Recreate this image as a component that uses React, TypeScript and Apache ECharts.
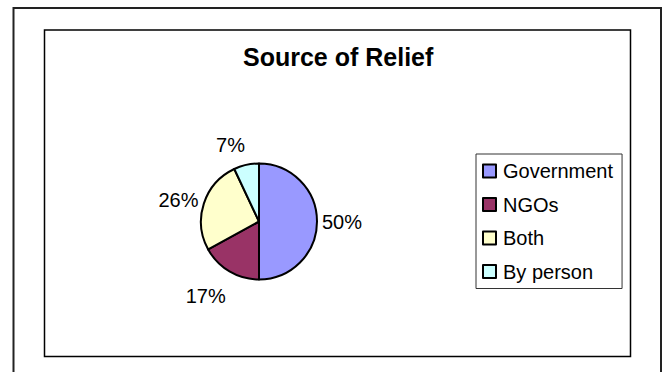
import React, { useEffect, useRef } from "react";
import * as echarts from "echarts";

const categories = ["Government", "NGOs", "Both", "By person"];
const values = [50, 17, 26, 7];
const colors = ["#9999FF", "#993366", "#FFFFCC", "#CCFFFF"];
const titleText = "Source of Relief";

// label placement tuning (layout only)
const labelLengths = [0, 29, 13, 20];
const labelDistances = [5, -11, -7, -3];
const labelPaddings = [[0, 0, 7, 0], [0, 0, 0, 0], [0, 0, 0, 0], [0, 0, 0, 0]];

const FONT = "'Liberation Sans', Arial, sans-serif";

export default function App() {
  const ref = useRef<HTMLDivElement>(null);
  useEffect(() => {
    if (!ref.current) return;
    const chart = echarts.init(ref.current, undefined, { renderer: "svg" });
    chart.setOption({
      animation: false,
      backgroundColor: "#ffffff",
      title: {
        text: titleText,
        left: 238,
        top: 39,
        textStyle: { fontSize: 25, fontWeight: "bold", fontFamily: FONT, color: "#000", lineHeight: 25 },
      },
      legend: {
        orient: "vertical",
        left: 476,
        top: 154,
        padding: [7, 9, 7, 6],
        itemWidth: 13,
        itemHeight: 13,
        itemGap: 13.5,
        icon: "rect",
        borderColor: "#333",
        borderWidth: 1,
        selectedMode: false,
        itemStyle: { borderColor: "#000", borderWidth: 2 },
        textStyle: { fontSize: 20, lineHeight: 20, fontFamily: FONT, color: "#000", padding: [0, 0, 0, 2] },
        data: categories,
      },
      graphic: [
        {
          type: "rect",
          shape: { x: 13.5, y: 8, width: 647.5, height: 400 },
          style: { fill: "none", stroke: "#222", lineWidth: 2 },
          z: -1,
        },
        {
          type: "rect",
          shape: { x: 44.5, y: 30, width: 586, height: 326.5 },
          style: { fill: "none", stroke: "#000", lineWidth: 1.5 },
          z: -1,
        },
      ],
      series: [
        {
          type: "pie",
          center: [259, 221.5],
          radius: 58,
          startAngle: 90,
          clockwise: true,
          avoidLabelOverlap: false,
          itemStyle: { borderColor: "#000", borderWidth: 2 },
          emphasis: { disabled: true },
          label: {
            show: true,
            position: "outside",
            fontSize: 20,
            fontFamily: FONT,
            color: "#000",
            formatter: (p: any) => Math.round(p.percent) + "%",
          },
          labelLine: { show: false, length2: 0 },
          data: categories.map((name, i) => ({
            name,
            value: values[i],
            itemStyle: { color: colors[i] },
            labelLine: { show: false, length: labelLengths[i], length2: 0 },
            label: { distanceToLabelLine: labelDistances[i], padding: labelPaddings[i] },
          })),
        },
      ],
    });
    return () => chart.dispose();
  }, []);
  return (
    <div
      ref={ref}
      style={{ position: "fixed", left: 0, top: 0, width: 666, height: 372, background: "#fff" }}
    />
  );
}
